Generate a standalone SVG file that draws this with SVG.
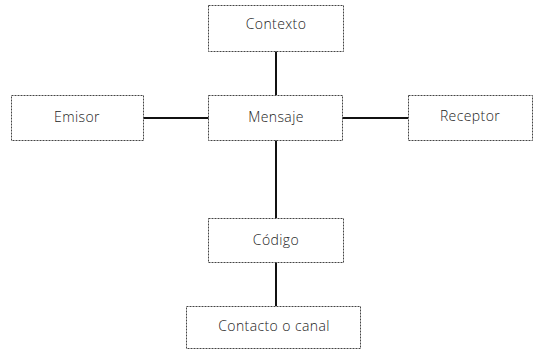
<svg xmlns="http://www.w3.org/2000/svg" width="535" height="351" viewBox="0 0 535 351">
<style>
.box{fill:#fff;stroke:#444;stroke-width:1;stroke-dasharray:2 1}
.lbl{font-family:"Open Sans","Liberation Sans",sans-serif;font-weight:300;font-size:14px;letter-spacing:0.4px;fill:#222;text-anchor:middle;dominant-baseline:central}
.conn{stroke:#111;stroke-width:2;fill:none}
</style>
<rect width="535" height="351" fill="#fff"/>
<g id="connectors">
<line class="conn" x1="276" y1="51" x2="276" y2="95"/>
<line class="conn" x1="143" y1="118" x2="209" y2="118"/>
<line class="conn" x1="342" y1="118" x2="408" y2="118"/>
<line class="conn" x1="276" y1="140" x2="276" y2="218"/>
<line class="conn" x1="276" y1="262" x2="276" y2="306"/>
</g>
<g id="contexto"><rect class="box" x="208.5" y="5.5" width="135" height="46"/><text class="lbl" x="276" y="23">Contexto</text></g>
<g id="emisor"><rect class="box" x="11.5" y="95.5" width="132" height="45"/><text class="lbl" x="77" y="116">Emisor</text></g>
<g id="mensaje"><rect class="box" x="208.5" y="95.5" width="134" height="45"/><text class="lbl" x="276" y="116">Mensaje</text></g>
<g id="receptor"><rect class="box" x="408.5" y="95.5" width="124" height="45"/><text class="lbl" x="470" y="115">Receptor</text></g>
<g id="codigo"><rect class="box" x="208.5" y="218.5" width="135" height="44"/><text class="lbl" x="276" y="239">Código</text></g>
<g id="contacto"><rect class="box" x="186.5" y="306.5" width="174" height="42"/><text class="lbl" x="274" y="325">Contacto o canal</text></g>
</svg>
